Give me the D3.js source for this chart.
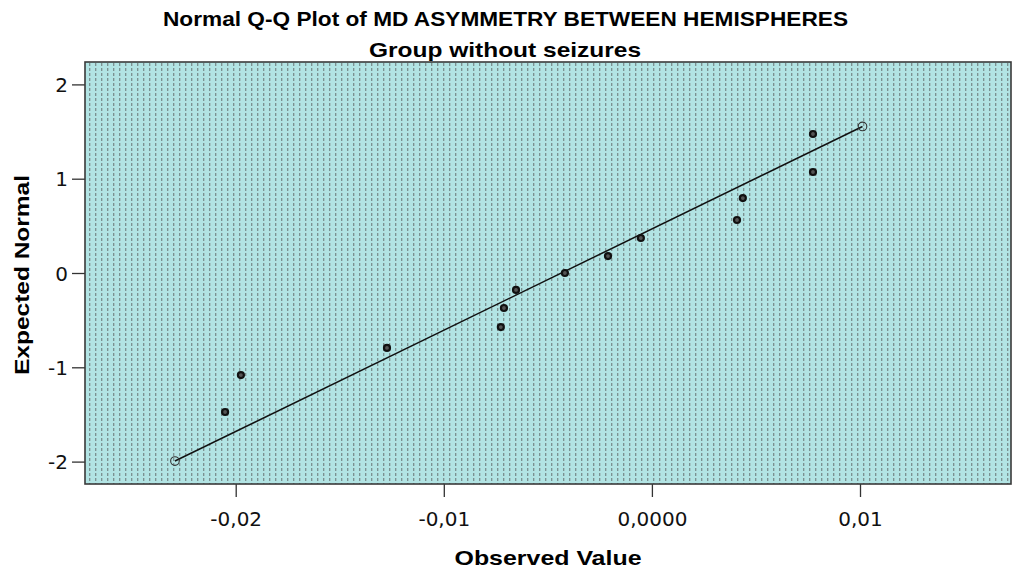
<!DOCTYPE html>
<html>
<head>
<meta charset="utf-8">
<script src="https://cdn.jsdelivr.net/npm/d3@7"></script>
<style>
  html, body { margin: 0; padding: 0; background: #fff; }
  svg { display: block; }
</style>
</head>
<body>
<svg id="chart" width="1013" height="577"></svg>
<script>
// Observed values (MD asymmetry) and their expected normal scores
const observed = [-0.02051, -0.01975, -0.01273, -0.00726, -0.00711, -0.00653, -0.00418,
                  -0.00211, -0.00053, 0.00409, 0.00437, 0.00774, 0.00774];
const expected = [-1.474, -1.082, -0.795, -0.573, -0.371, -0.180, 0.000,
                  0.180, 0.371, 0.562, 0.795, 1.071, 1.474];

// Reference line end points
const refX = [-0.02292, 0.01012];
const refY = [-1.994, 1.554];

// Axis ticks
const xTicks = [-0.02, -0.01, 0, 0.01];
const xTickLabels = ["-0,02", "-0,01", "0,0000", "0,01"];
const yTicks = [2, 1, 0, -1, -2];
const yTickLabels = ["2", "1", "0", "-1", "-2"];

const titleText = "Normal Q-Q Plot of MD ASYMMETRY BETWEEN HEMISPHERES";
const subtitleText = "Group without seizures";
const xTitle = "Observed Value";
const yTitle = "Expected Normal";

const svg = d3.select("#chart");
const plot = { left: 85, top: 62, right: 1011, bottom: 484 };

const x = d3.scaleLinear().domain([-0.027242, 0.017256]).range([plot.left, plot.right]);
const y = d3.scaleLinear().domain([-2.2375, 2.2375]).range([plot.bottom, plot.top]);

// Dotted fill of the plotting area
const defs = svg.append("defs");
const pat = defs.append("pattern")
  .attr("id", "dots")
  .attr("patternUnits", "userSpaceOnUse")
  .attr("x", plot.left + 2).attr("y", plot.top)
  .attr("width", 6).attr("height", 5);
pat.append("rect").attr("width", 6).attr("height", 5).attr("fill", "#b2e4e4");
pat.append("rect").attr("x", 2).attr("y", 1).attr("width", 1).attr("height", 3).attr("fill", "#7a9292");
pat.append("rect").attr("x", 3).attr("y", 1).attr("width", 1).attr("height", 3).attr("fill", "#a2c6c6");

svg.append("rect")
  .attr("x", plot.left).attr("y", plot.top)
  .attr("width", plot.right - plot.left).attr("height", plot.bottom - plot.top)
  .attr("fill", "url(#dots)");

// Axes
const xAxis = d3.axisBottom(x).tickValues(xTicks)
  .tickFormat((d, i) => xTickLabels[i]).tickSize(13).tickSizeOuter(0);
const yAxis = d3.axisLeft(y).tickValues(yTicks)
  .tickFormat((d, i) => yTickLabels[i]).tickSize(13).tickSizeOuter(0);

const gx = svg.append("g").attr("transform", `translate(0,${plot.bottom})`).call(xAxis);
const gy = svg.append("g").attr("transform", `translate(${plot.left},0)`).call(yAxis);
[gx, gy].forEach(g => {
  g.select(".domain").remove();
  g.selectAll(".tick line").attr("stroke", "#333").attr("stroke-width", 1.3);
  g.selectAll(".tick text")
    .attr("fill", "#111")
    .style("font-family", "'DejaVu Sans', sans-serif")
    .style("font-size", "20px");
});
gx.selectAll(".tick text").attr("dy", "1.3em");
gy.selectAll(".tick text").attr("x", -17).attr("dy", "0.36em");

// Plot frame
svg.append("rect")
  .attr("x", plot.left).attr("y", plot.top)
  .attr("width", plot.right - plot.left).attr("height", plot.bottom - plot.top)
  .attr("fill", "none").attr("stroke", "#3a3a3a").attr("stroke-width", 1.6);

// Reference line
svg.append("line")
  .attr("x1", x(refX[0])).attr("y1", y(refY[0]))
  .attr("x2", x(refX[1])).attr("y2", y(refY[1]))
  .attr("stroke", "#111").attr("stroke-width", 1.5);
svg.selectAll(".endpt").data(refX).join("circle")
  .attr("class", "endpt")
  .attr("cx", d => x(d)).attr("cy", (d, i) => y(refY[i]))
  .attr("r", 4.3).attr("fill", "none").attr("stroke", "#333").attr("stroke-width", 1.1);

// Data points
svg.selectAll(".pt").data(observed).join("circle")
  .attr("class", "pt")
  .attr("cx", d => x(d)).attr("cy", (d, i) => y(expected[i]))
  .attr("r", 3).attr("fill", "#555").attr("stroke", "#111").attr("stroke-width", 2.2);

// Titles
const bold = "'Liberation Sans', Arial, sans-serif";
svg.append("text").attr("x", 505.5).attr("y", 26).attr("text-anchor", "middle")
  .attr("textLength", 685).attr("lengthAdjust", "spacingAndGlyphs")
  .style("font-family", bold).style("font-weight", "bold").style("font-size", "20.5px")
  .attr("fill", "#000").text(titleText);
svg.append("text").attr("x", 505).attr("y", 57).attr("text-anchor", "middle")
  .attr("textLength", 272).attr("lengthAdjust", "spacingAndGlyphs")
  .style("font-family", bold).style("font-weight", "bold").style("font-size", "20.5px")
  .attr("fill", "#000").text(subtitleText);
svg.append("text").attr("x", 548).attr("y", 565).attr("text-anchor", "middle")
  .attr("textLength", 187).attr("lengthAdjust", "spacingAndGlyphs")
  .style("font-family", bold).style("font-weight", "bold").style("font-size", "21px")
  .attr("fill", "#000").text(xTitle);
svg.append("text").attr("transform", "translate(29,275) rotate(-90)").attr("text-anchor", "middle")
  .attr("textLength", 200).attr("lengthAdjust", "spacingAndGlyphs")
  .style("font-family", bold).style("font-weight", "bold").style("font-size", "21px")
  .attr("fill", "#000").text(yTitle);
</script>
</body>
</html>
